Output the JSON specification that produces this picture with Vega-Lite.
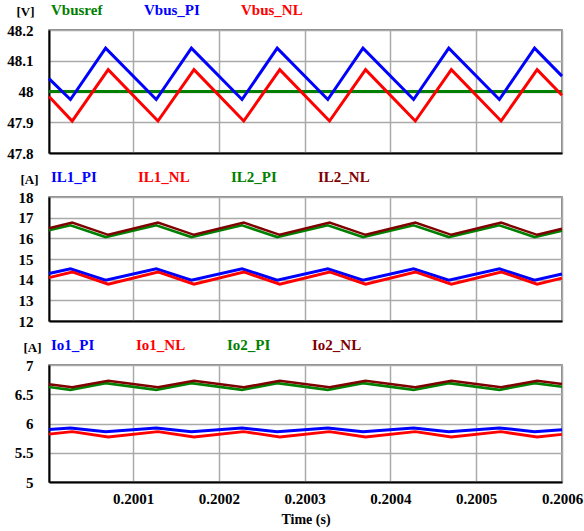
{
 "$schema": "https://vega.github.io/schema/vega-lite/v6.json",
 "padding": {"left": 6, "top": 1, "right": 2, "bottom": 5},
 "background": "white",
 "bounds": "flush",
 "spacing": 44,
 "config": {
  "font": "Liberation Serif",
  "view": {"stroke": "#666666", "strokeWidth": 1.5},
  "axis": {"labelFont": "Liberation Serif", "labelFontWeight": "bold", "labelFontSize": 15, "labelColor": "#000000", "domainColor": "#000000", "domainWidth": 2, "gridColor": "#aaaaaa", "gridWidth": 1.5, "gridOpacity": 1, "ticks": false, "labelFlush": false, "labelOverlap": false, "titleFont": "Liberation Serif", "titleFontWeight": "bold", "titleColor": "#000000"},
  "legend": {"orient": "none", "direction": "horizontal", "symbolType": "circle", "symbolSize": 0, "symbolOpacity": 0, "symbolStrokeWidth": 0, "labelOffset": 0, "columnPadding": 26, "padding": 0, "labelFont": "Liberation Serif", "labelFontSize": 15, "labelFontWeight": "bold", "labelLimit": 300, "labelColor": {"expr": "indexof(datum.value, 'ref') >= 0 || indexof(datum.value, '2_PI') >= 0 ? '#008000' : indexof(datum.value, '2_NL') >= 0 ? '#800000' : indexof(datum.value, '_PI') >= 0 ? '#0000ff' : '#ff0000'"}}
 },
 "datasets": {
  "p1": [
   {"s":"Vbusref","t":0.200002,"v":48},{"s":"Vbusref","t":0.2006,"v":48},
   {"s":"Vbus_PI","t":0.200002,"v":48.042},
   {"s":"Vbus_PI","t":0.200027,"v":47.974},{"s":"Vbus_PI","t":0.200068,"v":48.141},
   {"s":"Vbus_PI","t":0.200127,"v":47.974},{"s":"Vbus_PI","t":0.200168,"v":48.141},
   {"s":"Vbus_PI","t":0.200227,"v":47.974},{"s":"Vbus_PI","t":0.200268,"v":48.141},
   {"s":"Vbus_PI","t":0.200327,"v":47.974},{"s":"Vbus_PI","t":0.200368,"v":48.141},
   {"s":"Vbus_PI","t":0.200427,"v":47.974},{"s":"Vbus_PI","t":0.200468,"v":48.141},
   {"s":"Vbus_PI","t":0.200527,"v":47.974},{"s":"Vbus_PI","t":0.200568,"v":48.141},
   {"s":"Vbus_PI","t":0.2006,"v":48.05},
   {"s":"Vbus_NL","t":0.200002,"v":47.984},
   {"s":"Vbus_NL","t":0.200029,"v":47.904},{"s":"Vbus_NL","t":0.200071,"v":48.071},
   {"s":"Vbus_NL","t":0.200129,"v":47.904},{"s":"Vbus_NL","t":0.200171,"v":48.071},
   {"s":"Vbus_NL","t":0.200229,"v":47.904},{"s":"Vbus_NL","t":0.200271,"v":48.071},
   {"s":"Vbus_NL","t":0.200329,"v":47.904},{"s":"Vbus_NL","t":0.200371,"v":48.071},
   {"s":"Vbus_NL","t":0.200429,"v":47.904},{"s":"Vbus_NL","t":0.200471,"v":48.071},
   {"s":"Vbus_NL","t":0.200529,"v":47.904},{"s":"Vbus_NL","t":0.200571,"v":48.071},
   {"s":"Vbus_NL","t":0.2006,"v":47.988}
  ],
  "p2": [
   {"s":"IL1_PI","t":0.200002,"v":14.30},
   {"s":"IL1_PI","t":0.200027,"v":14.53},{"s":"IL1_PI","t":0.200068,"v":13.97},
   {"s":"IL1_PI","t":0.200127,"v":14.53},{"s":"IL1_PI","t":0.200168,"v":13.97},
   {"s":"IL1_PI","t":0.200227,"v":14.53},{"s":"IL1_PI","t":0.200268,"v":13.97},
   {"s":"IL1_PI","t":0.200327,"v":14.53},{"s":"IL1_PI","t":0.200368,"v":13.97},
   {"s":"IL1_PI","t":0.200427,"v":14.53},{"s":"IL1_PI","t":0.200468,"v":13.97},
   {"s":"IL1_PI","t":0.200527,"v":14.53},{"s":"IL1_PI","t":0.200568,"v":13.97},
   {"s":"IL1_PI","t":0.2006,"v":14.27},
   {"s":"IL1_NL","t":0.200002,"v":14.10},
   {"s":"IL1_NL","t":0.200029,"v":14.37},{"s":"IL1_NL","t":0.200071,"v":13.78},
   {"s":"IL1_NL","t":0.200129,"v":14.37},{"s":"IL1_NL","t":0.200171,"v":13.78},
   {"s":"IL1_NL","t":0.200229,"v":14.37},{"s":"IL1_NL","t":0.200271,"v":13.78},
   {"s":"IL1_NL","t":0.200329,"v":14.37},{"s":"IL1_NL","t":0.200371,"v":13.78},
   {"s":"IL1_NL","t":0.200429,"v":14.37},{"s":"IL1_NL","t":0.200471,"v":13.78},
   {"s":"IL1_NL","t":0.200529,"v":14.37},{"s":"IL1_NL","t":0.200571,"v":13.78},
   {"s":"IL1_NL","t":0.2006,"v":14.07},
   {"s":"IL2_PI","t":0.200002,"v":16.39},
   {"s":"IL2_PI","t":0.200027,"v":16.63},{"s":"IL2_PI","t":0.200068,"v":16.06},
   {"s":"IL2_PI","t":0.200127,"v":16.63},{"s":"IL2_PI","t":0.200168,"v":16.06},
   {"s":"IL2_PI","t":0.200227,"v":16.63},{"s":"IL2_PI","t":0.200268,"v":16.06},
   {"s":"IL2_PI","t":0.200327,"v":16.63},{"s":"IL2_PI","t":0.200368,"v":16.06},
   {"s":"IL2_PI","t":0.200427,"v":16.63},{"s":"IL2_PI","t":0.200468,"v":16.06},
   {"s":"IL2_PI","t":0.200527,"v":16.63},{"s":"IL2_PI","t":0.200568,"v":16.06},
   {"s":"IL2_PI","t":0.2006,"v":16.37},
   {"s":"IL2_NL","t":0.200002,"v":16.49},
   {"s":"IL2_NL","t":0.200029,"v":16.76},{"s":"IL2_NL","t":0.200071,"v":16.17},
   {"s":"IL2_NL","t":0.200129,"v":16.76},{"s":"IL2_NL","t":0.200171,"v":16.17},
   {"s":"IL2_NL","t":0.200229,"v":16.76},{"s":"IL2_NL","t":0.200271,"v":16.17},
   {"s":"IL2_NL","t":0.200329,"v":16.76},{"s":"IL2_NL","t":0.200371,"v":16.17},
   {"s":"IL2_NL","t":0.200429,"v":16.76},{"s":"IL2_NL","t":0.200471,"v":16.17},
   {"s":"IL2_NL","t":0.200529,"v":16.76},{"s":"IL2_NL","t":0.200571,"v":16.17},
   {"s":"IL2_NL","t":0.2006,"v":16.46}
  ],
  "p3": [
   {"s":"Io1_PI","t":0.200002,"v":5.897},
   {"s":"Io1_PI","t":0.200027,"v":5.925},{"s":"Io1_PI","t":0.200068,"v":5.857},
   {"s":"Io1_PI","t":0.200127,"v":5.925},{"s":"Io1_PI","t":0.200168,"v":5.857},
   {"s":"Io1_PI","t":0.200227,"v":5.925},{"s":"Io1_PI","t":0.200268,"v":5.857},
   {"s":"Io1_PI","t":0.200327,"v":5.925},{"s":"Io1_PI","t":0.200368,"v":5.857},
   {"s":"Io1_PI","t":0.200427,"v":5.925},{"s":"Io1_PI","t":0.200468,"v":5.857},
   {"s":"Io1_PI","t":0.200527,"v":5.925},{"s":"Io1_PI","t":0.200568,"v":5.857},
   {"s":"Io1_PI","t":0.2006,"v":5.894},
   {"s":"Io1_NL","t":0.200002,"v":5.818},
   {"s":"Io1_NL","t":0.200029,"v":5.86},{"s":"Io1_NL","t":0.200071,"v":5.77},
   {"s":"Io1_NL","t":0.200129,"v":5.86},{"s":"Io1_NL","t":0.200171,"v":5.77},
   {"s":"Io1_NL","t":0.200229,"v":5.86},{"s":"Io1_NL","t":0.200271,"v":5.77},
   {"s":"Io1_NL","t":0.200329,"v":5.86},{"s":"Io1_NL","t":0.200371,"v":5.77},
   {"s":"Io1_NL","t":0.200429,"v":5.86},{"s":"Io1_NL","t":0.200471,"v":5.77},
   {"s":"Io1_NL","t":0.200529,"v":5.86},{"s":"Io1_NL","t":0.200571,"v":5.77},
   {"s":"Io1_NL","t":0.2006,"v":5.815},
   {"s":"Io2_PI","t":0.200002,"v":6.624},
   {"s":"Io2_PI","t":0.200027,"v":6.575},{"s":"Io2_PI","t":0.200068,"v":6.69},
   {"s":"Io2_PI","t":0.200127,"v":6.575},{"s":"Io2_PI","t":0.200168,"v":6.69},
   {"s":"Io2_PI","t":0.200227,"v":6.575},{"s":"Io2_PI","t":0.200268,"v":6.69},
   {"s":"Io2_PI","t":0.200327,"v":6.575},{"s":"Io2_PI","t":0.200368,"v":6.69},
   {"s":"Io2_PI","t":0.200427,"v":6.575},{"s":"Io2_PI","t":0.200468,"v":6.69},
   {"s":"Io2_PI","t":0.200527,"v":6.575},{"s":"Io2_PI","t":0.200568,"v":6.69},
   {"s":"Io2_PI","t":0.2006,"v":6.628},
   {"s":"Io2_NL","t":0.200002,"v":6.672},
   {"s":"Io2_NL","t":0.200029,"v":6.62},{"s":"Io2_NL","t":0.200071,"v":6.73},
   {"s":"Io2_NL","t":0.200129,"v":6.62},{"s":"Io2_NL","t":0.200171,"v":6.73},
   {"s":"Io2_NL","t":0.200229,"v":6.62},{"s":"Io2_NL","t":0.200271,"v":6.73},
   {"s":"Io2_NL","t":0.200329,"v":6.62},{"s":"Io2_NL","t":0.200371,"v":6.73},
   {"s":"Io2_NL","t":0.200429,"v":6.62},{"s":"Io2_NL","t":0.200471,"v":6.73},
   {"s":"Io2_NL","t":0.200529,"v":6.62},{"s":"Io2_NL","t":0.200571,"v":6.73},
   {"s":"Io2_NL","t":0.2006,"v":6.677}
  ]
 },
 "vconcat": [
  {
   "width": 513, "height": 123,
   "data": {"name": "p1"},
   "mark": {"type": "line", "strokeJoin": "miter"},
   "encoding": {
    "x": {"field": "t", "type": "quantitative", "scale": {"domain": [0.200002, 0.2006], "nice": false, "zero": false},
          "axis": {"title": null, "labels": false, "values": [0.2001, 0.2002, 0.2003, 0.2004, 0.2005, 0.2006]}},
    "y": {"field": "v", "type": "quantitative", "scale": {"domain": [47.8, 48.2], "nice": false, "zero": false},
          "axis": {"values": [47.8, 47.9, 48, 48.1, 48.2], "format": "~f", "labelPadding": 16, "title": "[V]", "titleAngle": 0, "titleX": -24, "titleY": -19, "titleAlign": "center", "titleBaseline": "middle", "titleFontSize": 13}},
    "color": {"field": "s", "type": "nominal", "scale": {"domain": ["Vbusref", "Vbus_PI", "Vbus_NL"], "range": ["#008000", "#0000ff", "#ff0000"]},
              "legend": {"title": null, "legendX": -13, "legendY": -28}},
    "strokeWidth": {"field": "s", "type": "nominal", "scale": {"domain": ["Vbusref", "Vbus_PI", "Vbus_NL"], "range": [3, 3, 2]}, "legend": null}
   }
  },
  {
   "width": 513, "height": 124,
   "data": {"name": "p2"},
   "mark": {"type": "line", "strokeJoin": "miter"},
   "encoding": {
    "x": {"field": "t", "type": "quantitative", "scale": {"domain": [0.200002, 0.2006], "nice": false, "zero": false},
          "axis": {"title": null, "labels": false, "values": [0.2001, 0.2002, 0.2003, 0.2004, 0.2005, 0.2006]}},
    "y": {"field": "v", "type": "quantitative", "scale": {"domain": [12, 18], "nice": false, "zero": false},
          "axis": {"values": [12, 13, 14, 15, 16, 17, 18], "format": "~f", "labelPadding": 16, "title": "[A]", "titleAngle": 0, "titleX": -20, "titleY": -18, "titleAlign": "center", "titleBaseline": "middle", "titleFontSize": 13}},
    "color": {"field": "s", "type": "nominal", "scale": {"domain": ["IL1_PI", "IL1_NL", "IL2_PI", "IL2_NL"], "range": ["#0000ff", "#ff0000", "#008000", "#800000"]},
              "legend": {"title": null, "legendX": -13, "legendY": -28}},
    "strokeWidth": {"field": "s", "type": "nominal", "scale": {"domain": ["IL1_PI", "IL1_NL", "IL2_PI", "IL2_NL"], "range": [3, 2.5, 3, 2.5]}, "legend": null}
   }
  },
  {
   "width": 513, "height": 117,
   "data": {"name": "p3"},
   "mark": {"type": "line", "strokeJoin": "miter"},
   "encoding": {
    "x": {"field": "t", "type": "quantitative", "scale": {"domain": [0.200002, 0.2006], "nice": false, "zero": false},
          "axis": {"title": "Time (s)", "titleFontSize": 14, "titlePadding": 6, "labelPadding": 9, "format": "~f", "values": [0.2001, 0.2002, 0.2003, 0.2004, 0.2005, 0.2006]}},
    "y": {"field": "v", "type": "quantitative", "scale": {"domain": [5, 7], "nice": false, "zero": false},
          "axis": {"values": [5, 5.5, 6, 6.5, 7], "format": "~f", "labelPadding": 16, "title": "[A]", "titleAngle": 0, "titleX": -17, "titleY": -18, "titleAlign": "center", "titleBaseline": "middle", "titleFontSize": 13}},
    "color": {"field": "s", "type": "nominal", "scale": {"domain": ["Io1_PI", "Io1_NL", "Io2_PI", "Io2_NL"], "range": ["#0000ff", "#ff0000", "#008000", "#800000"]},
              "legend": {"title": null, "legendX": -13, "legendY": -28}},
    "strokeWidth": {"field": "s", "type": "nominal", "scale": {"domain": ["Io1_PI", "Io1_NL", "Io2_PI", "Io2_NL"], "range": [3, 2.5, 3, 2.5]}, "legend": null}
   }
  }
 ],
 "resolve": {"scale": {"color": "independent", "y": "independent", "strokeWidth": "independent"}, "legend": {"color": "independent", "strokeWidth": "independent"}}
}
